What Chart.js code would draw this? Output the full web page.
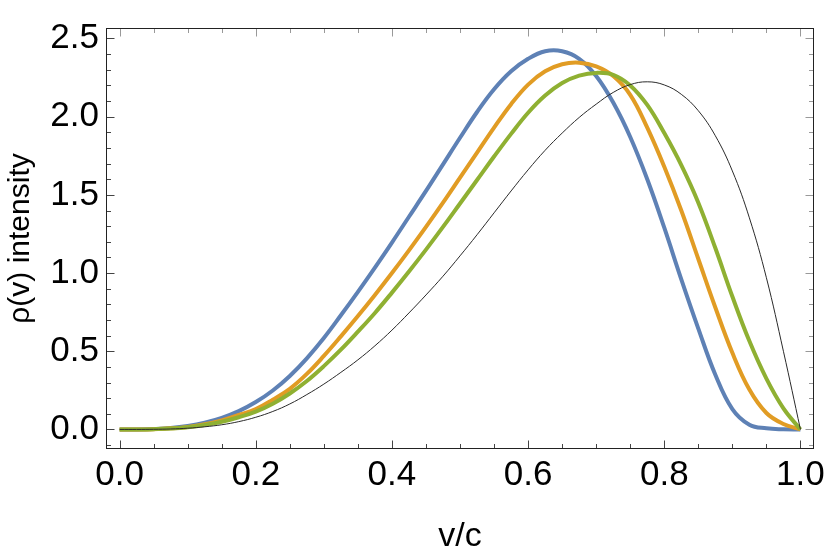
<!DOCTYPE html>
<html lang="en">
<head>
    <meta charset="UTF-8">
    <title>rho(v) intensity</title>
    <style>
        html, body { margin: 0; padding: 0; background: #fff; }
        #wrap { width: 830px; height: 554px; }
    </style>
</head>
<body>
    <div id="wrap">
        <canvas id="myChart" width="830" height="554"></canvas>
    </div>
    <script src="https://cdn.jsdelivr.net/npm/chart.js"></script>
    <script>
        // v/c sample grid (step 0.025)
        const xs = [0, 0.025, 0.05, 0.075, 0.1, 0.125, 0.15, 0.175, 0.2, 0.225,
                    0.25, 0.275, 0.3, 0.325, 0.35, 0.375, 0.4, 0.425, 0.45, 0.475,
                    0.5, 0.525, 0.55, 0.575, 0.6, 0.625, 0.65, 0.675, 0.7, 0.725,
                    0.75, 0.775, 0.8, 0.825, 0.85, 0.875, 0.9, 0.925, 0.95, 0.975, 1.0];

        // values
        const blue = [0, 0.0004, 0.003, 0.009, 0.022, 0.043, 0.074, 0.117, 0.175, 0.249,
                      0.342, 0.455, 0.585, 0.73, 0.88, 1.035, 1.195, 1.36, 1.525, 1.695,
                      1.865, 2.03, 2.175, 2.29, 2.37, 2.418, 2.418, 2.37, 2.26, 2.09,
                      1.87, 1.60, 1.29, 0.96, 0.645, 0.35, 0.13, 0.03, 0.007, 0.001, 0];
        const orange = [0, 0.0003, 0.002, 0.007, 0.016, 0.033, 0.058, 0.093, 0.13, 0.19,
                        0.26, 0.355, 0.47, 0.595, 0.725, 0.86, 1.0, 1.145, 1.295, 1.45,
                        1.61, 1.77, 1.93, 2.08, 2.205, 2.29, 2.335, 2.345, 2.322, 2.26,
                        2.14, 1.93, 1.68, 1.40, 1.09, 0.78, 0.49, 0.255, 0.105, 0.035, 0];
        const green = [0, 0.0002, 0.002, 0.006, 0.014, 0.028, 0.049, 0.078, 0.114, 0.165,
                       0.23, 0.31, 0.405, 0.51, 0.625, 0.745, 0.875, 1.01, 1.15, 1.295,
                       1.445, 1.595, 1.745, 1.89, 2.025, 2.135, 2.215, 2.262, 2.28, 2.268,
                       2.20, 2.075, 1.895, 1.69, 1.45, 1.16, 0.85, 0.565, 0.325, 0.135, 0];
        const black = [0, 0.0001, 0.001, 0.003, 0.008, 0.017, 0.030, 0.050, 0.078, 0.115,
                       0.163, 0.223, 0.29, 0.365, 0.445, 0.535, 0.635, 0.745, 0.86, 0.98,
                       1.11, 1.245, 1.385, 1.525, 1.66, 1.785, 1.895, 1.995, 2.08, 2.155,
                       2.205, 2.223, 2.203, 2.143, 2.038, 1.878, 1.653, 1.353, 0.97, 0.50, 0];

        const xTicks = [0, 0.2, 0.4, 0.6, 0.8, 1.0];
        const yTicks = [0, 0.5, 1.0, 1.5, 2.0, 2.5];

        const FONT = "'Liberation Sans', Arial, sans-serif";

        function pts(ys) {
            return xs.map((x, i) => ({ x: x, y: ys[i] }));
        }

        // frame with inward ticks on all four sides
        const framePlugin = {
            id: 'framePlugin',
            afterDraw: (chart) => {
                const ctx = chart.ctx;
                const a = chart.chartArea;
                const xs_ = chart.scales.x;
                const ys_ = chart.scales.y;
                const L = Math.round(a.left) + 0.5, R = Math.round(a.right) - 0.5;
                const T = Math.round(a.top) + 0.5, B = Math.round(a.bottom) - 0.5;
                ctx.save();
                ctx.lineWidth = 1;

                function tick(x1, y1, x2, y2, col) {
                    ctx.strokeStyle = col;
                    ctx.beginPath();
                    ctx.moveTo(x1, y1);
                    ctx.lineTo(x2, y2);
                    ctx.stroke();
                }

                for (let i = 0; i <= 20; i++) {
                    const v = i * 0.05;
                    const px = Math.round(xs_.getPixelForValue(v)) + 0.5;
                    const len = (i % 4 === 0) ? 8 : 4.5;
                    tick(px, B, px, B - len, '#444');
                    tick(px, T, px, T + len, '#999');
                }
                for (let i = -1; i <= 25; i++) {
                    const v = i * 0.1;
                    const py = Math.round(ys_.getPixelForValue(v)) + 0.5;
                    const len = (i % 5 === 0) ? 8 : 4.5;
                    tick(L, py, L + len, py, '#444');
                    tick(R, py, R - len, py, '#999');
                }

                ctx.strokeStyle = '#222';
                ctx.strokeRect(L, T, R - L, B - T);
                ctx.restore();
            }
        };

        const ctx = document.getElementById('myChart').getContext('2d');
        const chartInstance = new Chart(ctx, {
            type: 'line',
            data: {
                datasets: [
                    { label: 'blue', data: pts(blue), borderColor: '#5E81B5', borderWidth: 4, order: 3 },
                    { label: 'orange', data: pts(orange), borderColor: '#E19C24', borderWidth: 4, order: 2 },
                    { label: 'green', data: pts(green), borderColor: '#8FB032', borderWidth: 4, order: 1 },
                    { label: 'black', data: pts(black), borderColor: '#2a2a2a', borderWidth: 1, order: 0 }
                ]
            },
            options: {
                responsive: false,
                animation: false,
                events: [],
                layout: { padding: { top: 9, right: 12, left: 0, bottom: 0 } },
                elements: {
                    point: { radius: 0 },
                    line: { tension: 0.4, fill: false, borderJoinStyle: 'round' }
                },
                plugins: {
                    legend: { display: false },
                    tooltip: { enabled: false }
                },
                scales: {
                    x: {
                        type: 'linear',
                        min: -0.02,
                        max: 1.02,
                        grid: { display: false, drawTicks: false },
                        border: { display: false },
                        afterBuildTicks: (scale) => { scale.ticks = xTicks.map(v => ({ value: v })); },
                        afterFit: (scale) => { scale.height = 105; },
                        ticks: {
                            color: '#000',
                            padding: 5,
                            maxRotation: 0,
                            font: { family: FONT, size: 35 },
                            callback: (v) => Number(v).toFixed(1)
                        },
                        title: {
                            display: true,
                            text: 'v/c',
                            color: '#000',
                            padding: 0,
                            font: { family: FONT, size: 34, lineHeight: 1 }
                        }
                    },
                    y: {
                        min: -0.125,
                        max: 2.567,
                        grid: { display: false, drawTicks: false },
                        border: { display: false },
                        afterBuildTicks: (scale) => { scale.ticks = yTicks.map(v => ({ value: v })); },
                        afterFit: (scale) => { scale.width = 106; },
                        ticks: {
                            color: '#000',
                            padding: 7,
                            font: { family: FONT, size: 35 },
                            callback: (v) => Number(v).toFixed(1)
                        },
                        title: {
                            display: true,
                            text: 'ρ(v) intensity',
                            color: '#000',
                            padding: { top: 3 },
                            font: { family: FONT, size: 30 }
                        }
                    }
                }
            },
            plugins: [framePlugin]
        });
    </script>
</body>
</html>
